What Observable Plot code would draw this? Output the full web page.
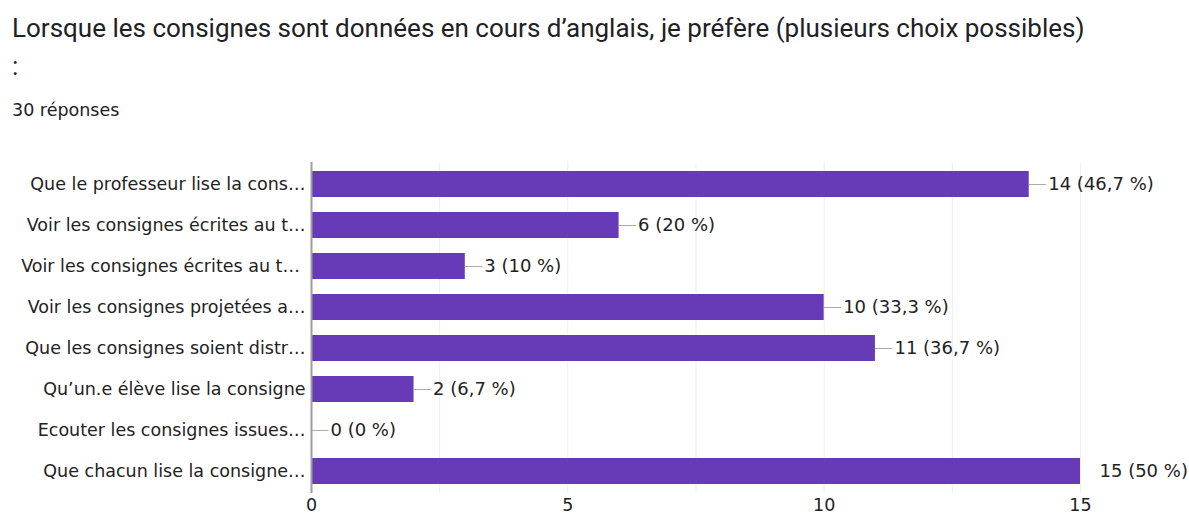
<!DOCTYPE html>
<html><head><meta charset="utf-8">
<script src="https://cdn.jsdelivr.net/npm/d3@7"></script>
<script src="https://cdn.jsdelivr.net/npm/@observablehq/plot@0.6"></script>
<style>
body{margin:0;background:#fff;width:1189px;height:521px;overflow:hidden;position:relative;}
#title{position:absolute;left:12px;top:9px;font-family:Roboto,"Liberation Sans",sans-serif;font-size:26px;line-height:38px;color:#202124;white-space:nowrap;}
#sub{position:absolute;left:12px;top:100px;font-family:"DejaVu Sans",sans-serif;font-size:17.5px;color:#202124;}
#chart{position:absolute;left:0;top:150px;}
</style></head><body>
<div id="title">Lorsque les consignes sont données en cours d’anglais, je préfère (plusieurs choix possibles)<br>:</div>
<div id="sub">30 réponses</div>
<div id="chart"></div>
<script>
const categories = [
  "Que le professeur lise la cons…",
  "Voir les consignes écrites au t…",
  "Voir les consignes écrites au t… ",
  "Voir les consignes projetées a…",
  "Que les consignes soient distr…",
  "Qu’un.e élève lise la consigne",
  "Ecouter les consignes issues…",
  "Que chacun lise la consigne…"
];
const counts = [14, 6, 3, 10, 11, 2, 0, 15];
const labels = ["14 (46,7 %)", "6 (20 %)", "3 (10 %)", "10 (33,3 %)", "11 (36,7 %)", "2 (6,7 %)", "0 (0 %)", "15 (50 %)"];
const gridTicks = [0, 2.5, 5, 7.5, 10, 12.5, 15];
const axisTicks = [0, 5, 10, 15];

const data = categories.map((c, i) => ({cat: c, value: counts[i], label: labels[i]}));
const maxV = d3.max(counts);

const chart = Plot.plot({
  width: 1189,
  height: 371,
  marginLeft: 311,
  marginRight: 109,
  marginTop: 12,
  marginBottom: 28,
  style: {fontFamily: "'DejaVu Sans', Verdana, sans-serif", fontSize: "17.5px", color: "#222"},
  x: {domain: [0, 15], ticks: axisTicks, tickSize: 0, tickPadding: 5, label: null, tickFormat: d => String(d)},
  y: {domain: categories, label: null, tickSize: 0, tickPadding: 6, paddingInner: 0.37, paddingOuter: 0.185},
  marks: [
    Plot.ruleX(gridTicks, {stroke: "#eeeeee", strokeOpacity: 1}),
    Plot.barX(data, {y: "cat", x: "value", fill: "#673ab7"}),
    Plot.ruleY(data.filter(d => d.value < maxV), {y: "cat", x1: "value", x2: d => d.value + 0.34, stroke: "#aaa", strokeWidth: 1}),
    Plot.text(data, {y: "cat", x: "value", text: "label", textAnchor: "start", dx: 19, fill: "#222", fontSize: 18}),
    Plot.ruleX([0], {stroke: "#9e9e9e", strokeWidth: 2})
  ]
});
document.getElementById("chart").appendChild(chart);
</script>
</body></html>
